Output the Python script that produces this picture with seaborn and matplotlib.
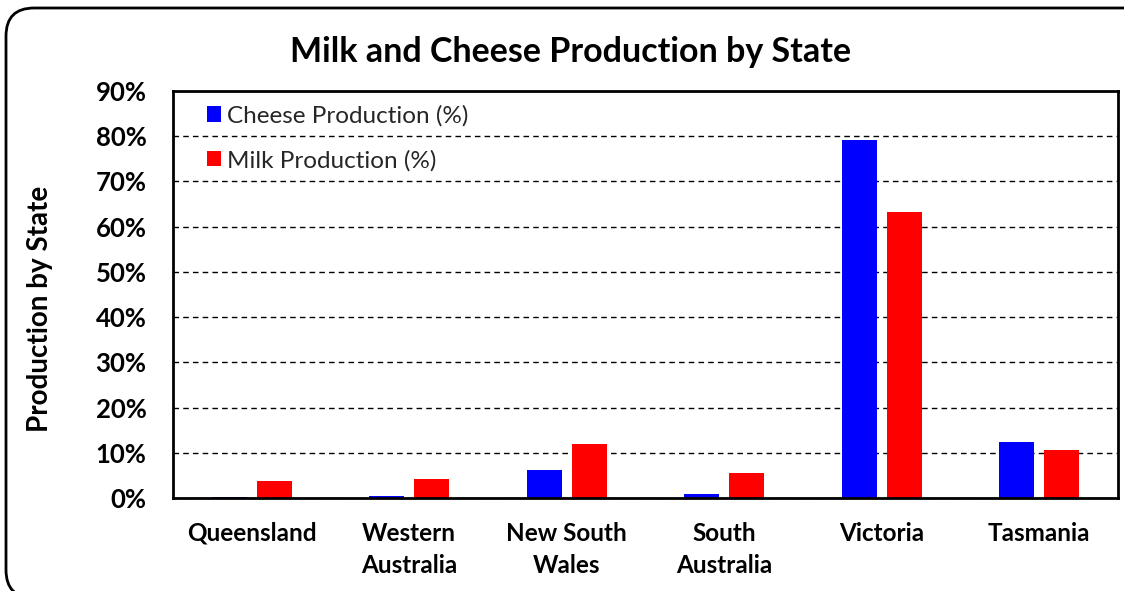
import matplotlib
matplotlib.use("Agg")
import matplotlib.pyplot as plt
from matplotlib.patches import FancyBboxPatch
from matplotlib.ticker import PercentFormatter
import seaborn as sns
import pandas as pd

states = ["Queensland", "Western\nAustralia", "New South\nWales", "South\nAustralia", "Victoria", "Tasmania"]
cheese_pct = [0.2, 0.5, 6.2, 0.9, 79.2, 12.4]
milk_pct = [3.8, 4.2, 12.0, 5.5, 63.3, 10.6]
series_names = ["Cheese Production (%)", "Milk Production (%)"]
series_colors = ["#0000ff", "#ff0000"]

df = pd.DataFrame({
    "State": states * 2,
    "Series": [series_names[0]] * len(states) + [series_names[1]] * len(states),
    "Value": cheese_pct + milk_pct,
})

sns.set_theme(style="white")
plt.rcParams["font.family"] = ["Lato", "DejaVu Sans"]

fig = plt.figure(figsize=(11.24, 5.91), dpi=100)
ax = fig.add_axes([0.1539, 0.1574, 0.8408, 0.6886])

sns.barplot(data=df, x="State", y="Value", hue="Series", palette=series_colors,
            width=0.571, ax=ax, legend=True, saturation=1)

# narrow each bar around its center so pairs leave a small gap
bar_w = 0.222
for p in ax.patches:
    cx = p.get_x() + p.get_width() / 2
    p.set_width(bar_w)
    p.set_x(cx - bar_w / 2)
    p.set_edgecolor("none")

ax.set_ylim(0, 90)
ax.set_xlim(-0.5, len(states) - 0.5)
ax.set_yticks(range(0, 91, 10))
ax.yaxis.set_major_formatter(PercentFormatter(decimals=0))
ax.yaxis.grid(True, linestyle=(0, (4, 3)), color="black", linewidth=1)
ax.set_axisbelow(True)
for s in ax.spines.values():
    s.set_visible(True)
    s.set_color("black")
    s.set_linewidth(2)

ax.tick_params(axis="y", length=0, pad=19)
ax.tick_params(axis="x", length=0, pad=17)
for lab in ax.get_yticklabels():
    lab.set_fontsize(18.5)
    lab.set_fontweight("bold")
    lab.set_color("black")
for lab in ax.get_xticklabels():
    lab.set_fontsize(17.5)
    lab.set_fontweight("bold")
    lab.set_color("black")
    lab.set_linespacing(1.5)

ax.set_xlabel("")
ax.set_ylabel("")
fig.text(40 / 1124, 1 - 309 / 591, "Production by State", rotation=90,
         ha="center", va="center", fontsize=20, fontweight="bold", color="black")
fig.text(571 / 1124, 1 - 52 / 591, "Milk and Cheese Production by State",
         ha="center", va="center", fontsize=24.5, fontweight="bold", color="black")

leg = ax.legend(loc="upper left", frameon=False, fontsize=17.5, handlelength=0.6,
                handleheight=0.6, handletextpad=0.25, labelspacing=0.95,
                bbox_to_anchor=(0.019, 1.004), borderaxespad=0.25)

# rounded frame around the chart, running past the right and bottom edges
frame = FancyBboxPatch((6 / 1124, -7 / 591), 1160 / 1124, 590 / 591,
                       transform=fig.transFigure,
                       boxstyle="round,pad=0,rounding_size=0.025", fill=False,
                       edgecolor="black", linewidth=2, clip_on=False,
                       mutation_aspect=1124 / 591)
fig.patches.append(frame)

fig.savefig("out.png", dpi=100)
